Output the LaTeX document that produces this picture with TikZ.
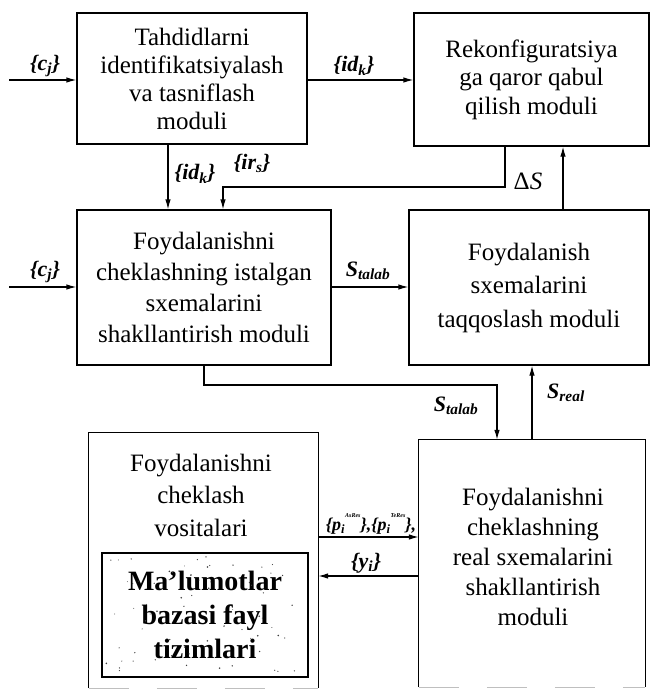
\documentclass[tikz,border=0pt]{standalone}
\usepackage{fontspec}
\setmainfont{Liberation Serif}
\usetikzlibrary{arrows.meta}
\begin{document}
\begin{tikzpicture}[x=1pt,y=-1pt,
  box/.style={draw, line width=1.2pt, inner sep=0pt, align=center,
    font=\fontsize{25}{28}\selectfont},
  openbox/.style={inner sep=0pt},
  txt/.style={align=center, inner sep=0pt, font=\fontsize{25}{32.5}\selectfont},
  lbl/.style={inner sep=0pt, font=\fontsize{22}{24}\selectfont\bfseries\itshape},
  arr/.style={line width=1.2pt, -{Latex[length=10pt,width=5.5pt]}},
  side/.style={line width=1.2pt},
  edge/.style={draw=black!25, line width=1.2pt, dash pattern=on 40pt off 28pt}]
\useasboundingbox (0,0) rectangle (655,690);

% module blocks
\node[box, minimum width=230, minimum height=131] (A) at (192,78.5)
  {Tahdidlarni\\identifikatsiyalash\\va tasniflash\\moduli};
\node[box, minimum width=235, minimum height=133, font=\fontsize{25}{28.5}\selectfont] (B) at (531.5,79.5)
  {Rekonfiguratsiya\\ga qaror qabul\\qilish moduli};
\node[box, minimum width=254, minimum height=155, font=\fontsize{25}{31}\selectfont] (C) at (204,287.5)
  {Foydalanishni\\cheklashning istalgan\\sxemalarini\\shakllantirish moduli};
\node[box, minimum width=240, minimum height=155, font=\fontsize{25}{33.5}\selectfont] (D) at (529,287.5)
  {Foydalanish\\sxemalarini\\taqqoslash moduli};

% lower blocks, running off the bottom edge
\node[openbox, minimum width=229, minimum height=255] (E) at (203.5,560.5) {};
\node[openbox, minimum width=226, minimum height=247] (F) at (532,563.5) {};
\draw[side] (E.south west) |- (E.north east) -- (E.south east);
\draw[side] (F.south west) |- (F.north east) -- (F.south east);
\draw[edge] (E.south west) -- (E.south east);
\draw[edge] (F.south west) -- (F.south east);
\node[txt] (Etext) at (201,495) {Foydalanishni\\cheklash\\vositalari};
\node[txt, font=\fontsize{25}{30}\selectfont] (Ftext) at (533,557)
  {Foydalanishni\\cheklashning\\real sxemalarini\\shakllantirish\\moduli};

% database block inside the tools block
\node[box, minimum width=206, minimum height=124, font=\fontsize{28}{34}\selectfont\bfseries] (DB) at (205,615)
  {Ma’lumotlar\\bazasi fayl\\tizimlari};
\pgfmathsetseed{42}
\foreach \i in {1,...,70} {
  \fill[black!75] ({106+198*rnd},{556+116*rnd}) circle[radius={0.4pt+0.5pt*rnd}];
}

% connection points
\coordinate (inA) at (9,80);
\coordinate (inC) at (9,287);
\coordinate (dnA) at (168,0);
\coordinate (irsOut) at (505,0);
\coordinate (irsTurn) at (223,187);
\coordinate (dS) at (563,0);
\coordinate (stOut) at (204,0);
\coordinate (stTurn) at (497,385);
\coordinate (sr) at (532,0);
\coordinate (pY) at (0,537);
\coordinate (yY) at (0,576);

% connectors
\draw[arr] (inA) -- (inA -| A.west);
\draw[arr] (inA -| A.east) -- (inA -| B.west);
\draw[arr] (dnA |- A.south) -- (dnA |- C.north);
\draw[arr] (irsOut |- B.south) |- (irsTurn) -- (irsTurn |- C.north);
\draw[arr] (dS |- D.north) -- (dS |- B.south);
\draw[arr] (inC) -- (inC -| C.west);
\draw[arr] (inC -| C.east) -- (inC -| D.west);
\draw[arr] (stOut |- C.south) |- (stTurn) -- (stTurn |- F.north);
\draw[arr] (sr |- F.north) -- (sr |- D.south);
\draw[arr] (pY -| E.east) -- (pY -| F.west);
\draw[arr] (yY -| F.west) -- (yY -| E.east);

% connector labels
\node[lbl] (lcjA) at (45,66) {\{c\textsubscript{j}\}};
\node[lbl] (lidkAB) at (354,66) {\{id\textsubscript{k}\}};
\node[lbl] (lidkDn) at (195,174) {\{id\textsubscript{k}\}};
\node[lbl] (lirs) at (252,163) {\{ir\textsubscript{s}\}};
\node[inner sep=0pt, font=\fontsize{25}{27}\selectfont] (ldS) at (528,181) {Δ\textit{S}};
\node[lbl] (lcjC) at (45,272) {\{c\textsubscript{j}\}};
\node[lbl] (lstCD) at (368,271) {S\textsubscript{talab}};
\node[lbl] (lstDn) at (456,406) {S\textsubscript{talab}};
\node[lbl] (lsr) at (566,393) {S\textsubscript{real}};
\node[lbl, font=\fontsize{18}{20}\selectfont\bfseries\itshape] (lp) at (371,524)
  {\{p\textsubscript{i}\raisebox{1.5ex}{\fontsize{6}{7}\selectfont AsRes}\},\{p\textsubscript{i}\raisebox{1.5ex}{\fontsize{6}{7}\selectfont TeRes}\},};
\node[lbl] (lyi) at (366,563) {\{y\textsubscript{i}\}};
\end{tikzpicture}
\end{document}
